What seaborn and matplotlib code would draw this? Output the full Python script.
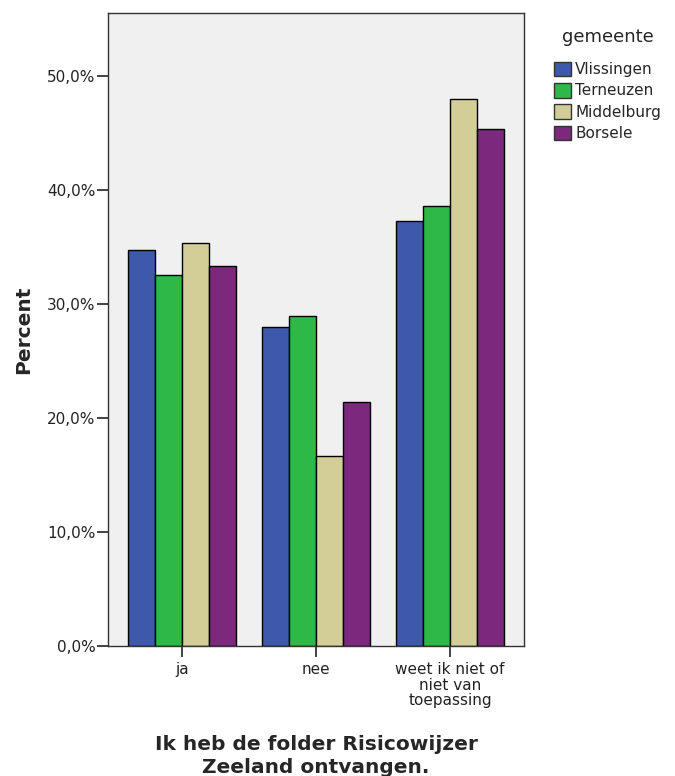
import pandas as pd
import numpy as np
import matplotlib.pyplot as plt
import seaborn as sns
from matplotlib.ticker import FuncFormatter

categories = ['ja', 'nee', 'weet ik niet of\nniet van\ntoepassing']
gemeenten = ['Vlissingen', 'Terneuzen', 'Middelburg', 'Borsele']
vlissingen = [34.7, 28.0, 37.3]
terneuzen = [32.5, 28.9, 38.6]
middelburg = [35.3, 16.7, 48.0]
borsele = [33.3, 21.4, 45.3]
colors = ['#3E58AC', '#2EB848', '#D3CE97', '#7B287D']

rows = []
for g, vals in zip(gemeenten, [vlissingen, terneuzen, middelburg, borsele]):
    for c, v in zip(categories, vals):
        rows.append({'antwoord': c, 'gemeente': g, 'percent': v})
df = pd.DataFrame(rows)

sns.set_style('white')
plt.rcParams['font.family'] = ['DejaVu Sans']

fig = plt.figure(figsize=(6.75, 7.76), dpi=100)
ax = fig.add_axes([0.16, 0.1675, 0.6163, 0.8157])
ax.set_facecolor('#F0F0F0')

sns.barplot(data=df, x='antwoord', y='percent', hue='gemeente',
            order=categories, hue_order=gemeenten, palette=colors,
            edgecolor='black', linewidth=1, width=0.8, ax=ax, saturation=1)

ax.set_xlim(-0.552, 2.552)
ax.set_ylim(0, 55.5)
ax.set_yticks([0, 10, 20, 30, 40, 50])
ax.yaxis.set_major_formatter(FuncFormatter(lambda v, p: f'{v:.1f}%'.replace('.', ',')))
ax.tick_params(axis='both', length=8, width=1.2, color='#222222',
               labelsize=11, labelcolor='#222222', left=True, bottom=True)
ax.tick_params(axis='y', pad=1)
for lbl in ax.get_xticklabels():
    lbl.set_multialignment('center')
    lbl.set_linespacing(1.05)

for s in ax.spines.values():
    s.set_visible(True)
    s.set_color('#333333')
    s.set_linewidth(1)

ax.set_ylabel('Percent', fontsize=14.5, fontweight='bold', labelpad=10)
ax.set_xlabel('Ik heb de folder Risicowijzer\nZeeland ontvangen.', fontsize=14.5,
              fontweight='bold', labelpad=19, linespacing=1.3)

leg = ax.legend(title='gemeente', loc='upper left', bbox_to_anchor=(1.072, 0.976),
                frameon=False, fontsize=11, title_fontsize=13,
                handlelength=1.1, handleheight=1.1, handletextpad=0.3,
                labelspacing=0.38, borderaxespad=0, borderpad=0)
leg._legend_box.sep = 11
for h in leg.legend_handles:
    h.set_edgecolor('#333333')

fig.savefig('out.png', dpi=100)
